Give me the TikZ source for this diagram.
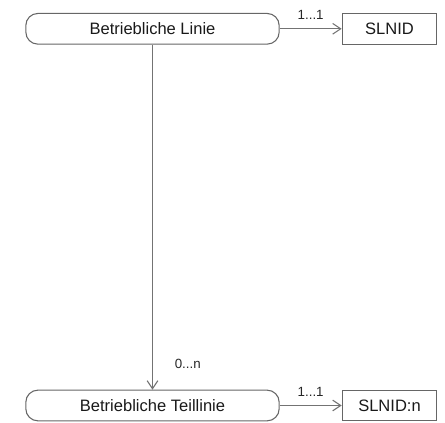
\documentclass[tikz,border=0pt]{standalone}
\usepackage{fontspec}
\setmainfont{Liberation Sans}
\usetikzlibrary{arrows.meta}
\newcommand{\bh}{23pt}
\tikzset{
  ovalbox/.style={draw=black!60, rounded corners=9pt, minimum width=190pt, minimum height=\bh, inner sep=0pt},
  idbox/.style={draw=black!60, minimum width=71pt, minimum height=\bh, inner sep=0pt},
  link/.style={draw=black!55, -{Straight Barb[length=6pt,width=8pt]}},
  card/.style={font=\fontsize{10}{12}\selectfont, text=black!85},
}
\begin{document}
\begin{tikzpicture}[x=0.75pt,y=-0.75pt, line width=0.8pt, font=\fontsize{12.4}{14}\selectfont, text=black!90]
  \useasboundingbox (0,0) rectangle (445,423);
  % entities
  \node[ovalbox] (linie) at (152.5,28.8) {Betriebliche Linie};
  \node[idbox] (slnid) at (389.5,28.8) {SLNID};
  \node[ovalbox] (teillinie) at (152.5,405.5) {Betriebliche Teillinie};
  \node[idbox] (slnidn) at (389.5,405.5) {SLNID:n};
  % links
  \draw[link] (linie) -- node[card, above=3pt] {1...1} (slnid);
  \draw[link] (teillinie) -- node[card, above=3pt] {1...1} (slnidn);
  \draw[link] (linie) -- node[card, pos=0.925, right=13pt] {0...n} (teillinie);
\end{tikzpicture}
\end{document}
